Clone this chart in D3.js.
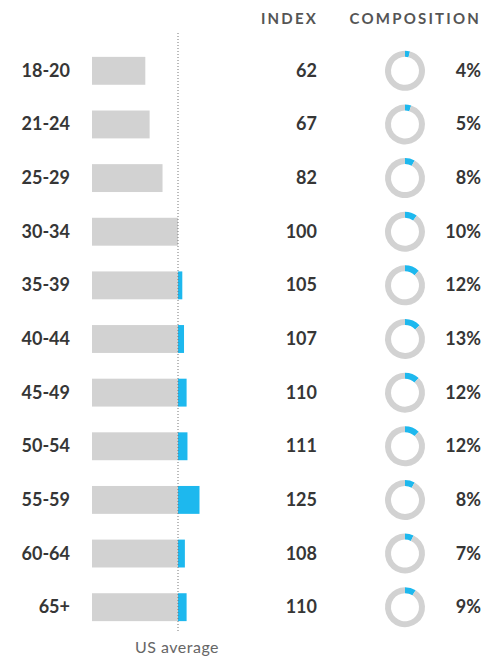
<!DOCTYPE html>
<html lang="en">
<head>
<meta charset="UTF-8">
<title>Age index</title>
<script src="https://d3js.org/d3.v7.min.js"></script>
<style>
  body { margin: 0; background: #fff; }
  svg text { font-family: Lato, "Open Sans", sans-serif; }
</style>
</head>
<body>
<div id="chart"></div>
<script>
const ages = ["18-20", "21-24", "25-29", "30-34", "35-39", "40-44", "45-49", "50-54", "55-59", "60-64", "65+"];
const indexValues = [62, 67, 82, 100, 105, 107, 110, 111, 125, 108, 110];
const composition = [4, 5, 8, 10, 12, 13, 12, 12, 8, 7, 9];
const headers = ["INDEX", "COMPOSITION"];
const baseline = 100;
const baselineLabel = "US average";

const w = 493, h = 658;
const blue = "#1db8ee", grey = "#d2d2d2", ink = "#363636";

const svg = d3.select("#chart").append("svg")
    .attr("width", w).attr("height", h);

const rows = ages.map((a, i) => ({ age: a, index: indexValues[i], comp: composition[i] }));

const y = d3.scaleBand()
    .domain(ages)
    .range([44, 634])
    .paddingInner(0.48)
    .paddingOuter(0.24);

const x = d3.scaleLinear()
    .domain([0, 100])
    .range([92, 178]);

// column headers
svg.selectAll("text.head")
    .data(headers)
    .enter().append("text")
    .attr("class", "head")
    .attr("x", (d, i) => i === 0 ? 318 : 481)
    .attr("y", 24)
    .attr("text-anchor", "end")
    .attr("font-size", 15).attr("font-weight", 700)
    .attr("letter-spacing", 2.2)
    .attr("fill", "#555")
    .text(d => d);

const row = svg.selectAll("g.row")
    .data(rows)
    .enter().append("g")
    .attr("class", "row");

// age labels
row.append("text")
    .attr("x", 70)
    .attr("y", d => y(d.age) + y.bandwidth() / 2 + 6)
    .attr("text-anchor", "end")
    .attr("font-size", 18).attr("font-weight", 700)
    .attr("fill", ink)
    .text(d => d.age);

// grey part up to the average
row.append("rect")
    .attr("x", x(0))
    .attr("y", d => y(d.age))
    .attr("width", d => x(Math.min(d.index, baseline)) - x(0))
    .attr("height", y.bandwidth())
    .attr("fill", grey);

// blue part above the average
row.filter(d => d.index > baseline).append("rect")
    .attr("x", x(baseline))
    .attr("y", d => y(d.age))
    .attr("width", d => x(d.index) - x(baseline))
    .attr("height", y.bandwidth())
    .attr("fill", blue);

// index value
row.append("text")
    .attr("x", 317)
    .attr("y", d => y(d.age) + y.bandwidth() / 2 + 6)
    .attr("text-anchor", "end")
    .attr("font-size", 18).attr("font-weight", 700)
    .attr("fill", ink)
    .text(d => d.index);

// donuts
const arc = d3.arc().innerRadius(14).outerRadius(20);
const pie = d3.pie().sort(null);

const donut = row.append("g")
    .attr("transform", d => "translate(405," + (y(d.age) + y.bandwidth() / 2) + ")");

donut.selectAll("path")
    .data(d => pie([d.comp, 100 - d.comp]))
    .enter().append("path")
    .attr("d", arc)
    .attr("fill", (p, i) => i === 0 ? blue : grey);

// composition %
row.append("text")
    .attr("x", 481)
    .attr("y", d => y(d.age) + y.bandwidth() / 2 + 6)
    .attr("text-anchor", "end")
    .attr("font-size", 18).attr("font-weight", 700)
    .attr("fill", ink)
    .text(d => d.comp + "%");

// US average line
svg.append("line")
    .attr("x1", x(baseline)).attr("x2", x(baseline))
    .attr("y1", 33).attr("y2", 633)
    .attr("stroke", "#777")
    .attr("stroke-width", 1)
    .attr("stroke-dasharray", "1,2");

svg.append("text")
    .attr("x", x(baseline) - 1).attr("y", 653)
    .attr("text-anchor", "middle")
    .attr("font-size", 16)
    .attr("letter-spacing", 0.5)
    .attr("fill", "#666")
    .text(baselineLabel);
</script>
</body>
</html>
